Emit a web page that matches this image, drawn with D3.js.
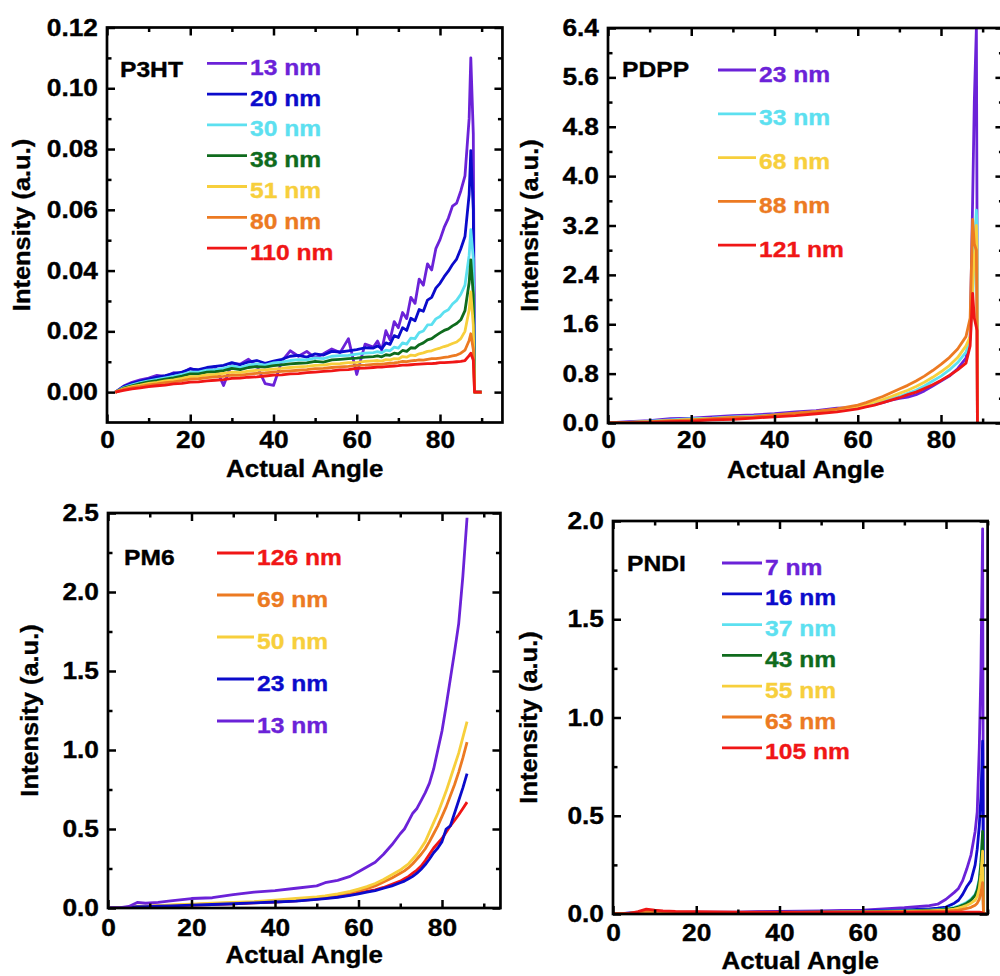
<!DOCTYPE html>
<html><head><meta charset="utf-8">
<script src="https://cdn.jsdelivr.net/npm/d3@7"></script>
<style>
body{margin:0;background:#fff}
svg{display:block}
text{font-family:"Liberation Sans",Arial,sans-serif;font-weight:bold}
</style>
</head><body>
<svg id="chart" width="1000" height="976"></svg>
<script>
// ---------------- DATA ----------------
const xTickValues = [0, 20, 40, 60, 80];
const xMinorValues = [10, 30, 50, 70, 90];
const xAxisTitle = "Actual Angle";
const yAxisTitle = "Intensity (a.u.)";

// P3HT
const p3htAngle = [2,4,6,8,10,12,14,16,18,20,22,24,26,28,30,32,34,36,38,40,42,44,46,48,50,52,54,56,58,60,62,
  64,65,66,67,68,69,70,71,72,73,74,75,76,77,78,79,80,81,82,83,84,85,86,87,87.4,88,88.3,90];
const p3ht13 = [0,0.002,0.0032,0.004,0.0046,0.0055,0.0052,0.0064,0.0062,0.0078,0.0068,0.0076,0.0084,0.0022,0.0094,0.0092,0.0108,0.0086,0.0028,0.0022,0.0102,0.0136,0.0118,0.0134,0.0112,0.0126,0.0142,0.013,0.0176,0.0058,0.0158,
  0.0148,0.0168,0.0138,0.0202,0.0172,0.0232,0.0212,0.0262,0.0242,0.0312,0.0292,0.0372,0.0352,0.0422,0.0402,0.0472,0.0502,0.0542,0.0572,0.0612,0.0622,0.0662,0.0712,
  0.09,0.110,0.085,0,0];
const p3ht20 = [0,0.0018,0.0029,0.0036,0.0043,0.0049,0.0054,0.0061,0.0066,0.0076,0.0074,0.0081,0.0085,0.0088,0.0097,0.009,0.0099,0.0104,0.0095,0.0102,0.0108,0.0118,0.0121,0.0115,0.0126,0.0122,0.0134,0.0132,0.0136,0.0140,0.0146,
  0.0145,0.0152,0.0143,0.0162,0.0157,0.0186,0.018,0.0212,0.0203,0.0243,0.0235,0.0272,0.0266,0.0303,0.0312,0.0342,0.0358,0.038,0.0398,0.042,0.0438,0.0472,0.0512,
  0.065,0.0795,0.06,0,0];
const p3ht30 = [0,0.0015,0.0024,0.0031,0.0037,0.0042,0.0047,0.0052,0.0058,0.0066,0.0066,0.0072,0.0074,0.0078,0.0086,0.0081,0.0089,0.0093,0.0089,0.0096,0.0099,0.0104,0.0107,0.0106,0.0113,0.011,0.0118,0.012,0.0121,0.0125,0.0128,
  0.013,0.0133,0.0129,0.0138,0.0136,0.0148,0.0145,0.0162,0.0158,0.0178,0.0176,0.0196,0.0201,0.0221,0.0222,0.0241,0.0249,0.0264,0.0271,0.029,0.0302,0.0322,0.0352,
  0.045,0.0535,0.044,0,0];
const p3ht38 = [0,0.0013,0.0021,0.0028,0.0034,0.0038,0.0043,0.0047,0.0053,0.006,0.006,0.0066,0.0067,0.0071,0.0078,0.0074,0.0081,0.0084,0.0082,0.0087,0.009,0.0093,0.0095,0.0096,0.0101,0.0099,0.0106,0.0108,0.011,0.0112,0.0115,
  0.0117,0.0119,0.0116,0.0123,0.0121,0.0128,0.0126,0.0137,0.0134,0.0146,0.0145,0.0156,0.0162,0.0172,0.0176,0.0186,0.0195,0.0203,0.0208,0.0218,0.0226,0.0238,0.0268,
  0.036,0.0435,0.032,0,0];
const p3ht51 = [0,0.0011,0.0018,0.0023,0.0029,0.0032,0.0037,0.004,0.0045,0.0051,0.0052,0.0057,0.0058,0.0062,0.0066,0.0064,0.0069,0.0072,0.0073,0.0076,0.0078,0.0081,0.0083,0.0085,0.0088,0.0089,0.0093,0.0094,0.0097,0.0098,0.0101,
  0.0103,0.0104,0.0102,0.0107,0.0106,0.011,0.0109,0.0117,0.0115,0.0122,0.012,0.0126,0.0129,0.0134,0.0136,0.0141,0.0145,0.015,0.0154,0.016,0.0165,0.0176,0.0200,
  0.027,0.033,0.022,0,0];
const p3ht80 = [0,0.0009,0.0015,0.0019,0.0024,0.0027,0.0031,0.0034,0.0038,0.0043,0.0044,0.0048,0.005,0.0052,0.0056,0.0055,0.0059,0.0062,0.0063,0.0066,0.0068,0.007,0.0072,0.0074,0.0077,0.0078,0.0081,0.0083,0.0085,0.0088,0.0089,
  0.0091,0.0092,0.0091,0.0094,0.0095,0.0096,0.0098,0.0101,0.01,0.0103,0.0104,0.0106,0.0105,0.0108,0.011,0.011,0.0112,0.0114,0.0116,0.0119,0.0122,0.0128,0.0138,
  0.017,0.0192,0.014,0,0];
const p3ht110 = [0,0.0006,0.0011,0.0014,0.0018,0.0021,0.0023,0.0027,0.0029,0.0033,0.0034,0.0037,0.0039,0.0041,0.0045,0.0046,0.0049,0.005,0.0053,0.0056,0.0057,0.006,0.0061,0.0064,0.0066,0.0068,0.007,0.0073,0.0074,0.0078,0.0079,
  0.0081,0.0082,0.0082,0.0084,0.0085,0.0086,0.0087,0.0089,0.0089,0.009,0.0091,0.0092,0.0093,0.0094,0.0094,0.0095,0.0097,0.0097,0.0098,0.0099,0.0100,0.0101,0.0104,
  0.012,0.0128,0.0105,0,0];
const p3htLabels = ["13 nm","20 nm","30 nm","38 nm","51 nm","80 nm","110 nm"];
const p3htYTicks = [0,0.02,0.04,0.06,0.08,0.10,0.12];
const p3htYMinor = [0.01,0.03,0.05,0.07,0.09,0.11];

// PDPP
const pdppAngle = [0,5,10,15,20,25,30,35,40,45,50,55,60,62,64,66,68,70,72,74,76,78,80,82,84,86,87,87.6,88,88.5,88.65,88.75];
const pdpp23 = [0,0.02,0.04,0.07,0.08,0.1,0.12,0.13,0.15,0.18,0.2,0.24,0.25,0.27,0.3,0.33,0.37,0.4,0.42,0.46,0.52,0.6,0.68,0.76,0.88,1.05,1.4,3.6,5.2,6.4,3.4,0];
const pdpp33 = [0,0.01,0.03,0.05,0.07,0.08,0.1,0.11,0.13,0.15,0.18,0.21,0.25,0.28,0.31,0.35,0.39,0.43,0.48,0.53,0.6,0.68,0.76,0.86,0.98,1.15,1.35,2.0,2.8,3.45,3.2,0];
const pdpp68 = [0,0.01,0.02,0.04,0.06,0.07,0.09,0.1,0.12,0.15,0.18,0.22,0.27,0.3,0.34,0.38,0.43,0.48,0.53,0.59,0.66,0.74,0.83,0.93,1.06,1.25,1.4,2.2,2.7,3.2,2.8,0];
const pdpp88 = [0,0.01,0.02,0.04,0.05,0.07,0.09,0.1,0.13,0.16,0.19,0.23,0.29,0.33,0.38,0.43,0.49,0.55,0.61,0.68,0.76,0.85,0.95,1.06,1.2,1.4,1.7,3.3,2.9,2.8,1.5,0];
const pdpp121 = [0,0,0.01,0.02,0.03,0.05,0.06,0.08,0.1,0.12,0.15,0.18,0.23,0.26,0.29,0.33,0.37,0.41,0.46,0.5,0.56,0.62,0.69,0.77,0.86,0.97,1.25,2.1,1.7,1.55,1.5,0];
const pdppLabels = ["23 nm","33 nm","68 nm","88 nm","121 nm"];
const pdppYTicks = [0,0.8,1.6,2.4,3.2,4.0,4.8,5.6,6.4];
const pdppYMinor = [0.4,1.2,2.0,2.8,3.6,4.4,5.2,6.0];

// PM6
const pm6Angle = [0.5,3,5,7,9,12,15,20,25,30,35,40,45,50,52,55,58,60,62,64,66,68,70,71,72,73,74,75,76,77,78,79,80,81,82,83,84,85,86];
const pm6_126 = [0,0.001,0.004,0.008,0.009,0.011,0.014,0.018,0.022,0.027,0.032,0.038,0.045,0.056,0.062,0.07,0.083,0.095,0.105,0.115,0.13,0.15,0.17,0.185,0.2,0.22,0.24,0.265,0.3,0.34,0.38,0.41,0.44,0.48,0.52,0.555,0.59,0.63,0.67];
const pm6_69 = [0,0.002,0.005,0.01,0.01,0.013,0.017,0.022,0.027,0.032,0.037,0.045,0.055,0.065,0.072,0.083,0.097,0.11,0.123,0.14,0.165,0.19,0.22,0.235,0.255,0.28,0.31,0.34,0.375,0.42,0.47,0.52,0.58,0.64,0.71,0.78,0.86,0.95,1.05];
const pm6_50 = [0,0.002,0.005,0.012,0.012,0.015,0.02,0.025,0.03,0.035,0.04,0.05,0.06,0.07,0.077,0.09,0.105,0.12,0.135,0.155,0.18,0.21,0.24,0.26,0.28,0.31,0.34,0.38,0.42,0.48,0.54,0.6,0.67,0.74,0.82,0.9,0.98,1.08,1.18];
const pm6_23 = [0,0.001,0.004,0.008,0.009,0.011,0.014,0.018,0.022,0.027,0.032,0.038,0.044,0.055,0.06,0.068,0.08,0.09,0.1,0.11,0.125,0.14,0.16,0.17,0.185,0.2,0.22,0.245,0.275,0.31,0.35,0.38,0.42,0.5,0.52,0.6,0.68,0.76,0.85];
const pm6_13 = [0,0.002,0.01,0.035,0.03,0.035,0.045,0.06,0.065,0.085,0.1,0.11,0.125,0.14,0.16,0.175,0.2,0.23,0.26,0.29,0.34,0.4,0.47,0.5,0.55,0.6,0.63,0.68,0.73,0.79,0.88,1.0,1.12,1.28,1.45,1.62,1.8,2.1,2.47];
const pm6Labels = ["126 nm","69 nm","50 nm","23 nm","13 nm"];
const pm6YTicks = [0,0.5,1.0,1.5,2.0,2.5];
const pm6YMinor = [0.25,0.75,1.25,1.75,2.25];

// PNDI
const pndiAngle = [0,2,4,6,8,10,12,15,20,25,30,35,40,45,50,55,60,65,70,73,76,78,80,82,83,84,85,86,87,87.5,88,88.4,88.8,89.0,89.5];
const pndi7 = [0,0.002,0.005,0.008,0.012,0.01,0.008,0.008,0.009,0.009,0.01,0.012,0.013,0.015,0.016,0.018,0.02,0.026,0.032,0.038,0.042,0.05,0.075,0.11,0.13,0.17,0.23,0.3,0.42,0.52,0.85,1.25,1.96,0,0];
const pndi16 = [0,0.002,0.004,0.006,0.01,0.008,0.007,0.007,0.007,0.008,0.008,0.009,0.01,0.011,0.012,0.013,0.015,0.018,0.02,0.023,0.026,0.03,0.035,0.055,0.07,0.1,0.14,0.17,0.25,0.33,0.45,0.6,0.88,0,0];
const pndi37 = [0,0.002,0.003,0.005,0.009,0.007,0.006,0.006,0.006,0.006,0.007,0.007,0.008,0.009,0.01,0.011,0.012,0.014,0.016,0.018,0.02,0.022,0.026,0.034,0.04,0.05,0.06,0.075,0.1,0.13,0.18,0.27,0.40,0,0];
const pndi43 = [0,0.002,0.003,0.005,0.009,0.007,0.006,0.006,0.006,0.006,0.006,0.007,0.008,0.008,0.009,0.01,0.011,0.013,0.015,0.017,0.019,0.021,0.024,0.03,0.036,0.045,0.055,0.07,0.095,0.12,0.17,0.26,0.42,0,0];
const pndi55 = [0,0.002,0.003,0.005,0.009,0.007,0.006,0.006,0.005,0.005,0.006,0.006,0.007,0.007,0.008,0.009,0.01,0.011,0.013,0.014,0.016,0.018,0.02,0.025,0.03,0.036,0.044,0.055,0.07,0.09,0.13,0.2,0.32,0,0];
const pndi63 = [0,0.002,0.004,0.008,0.015,0.012,0.01,0.009,0.008,0.008,0.008,0.008,0.008,0.008,0.009,0.009,0.01,0.01,0.011,0.012,0.013,0.014,0.015,0.018,0.02,0.024,0.028,0.034,0.045,0.055,0.075,0.11,0.16,0,0];
const pndi105 = [0,0.001,0.003,0.012,0.025,0.02,0.016,0.013,0.012,0.011,0.01,0.01,0.01,0.01,0.009,0.009,0.009,0.009,0.009,0.009,0.009,0.009,0.009,0.009,0.009,0.009,0.009,0.009,0.009,0.009,0.009,0.008,0.005,0.002,0];
const pndiLabels = ["7 nm","16 nm","37 nm","43 nm","55 nm","63 nm","105 nm"];
const pndiYTicks = [0,0.5,1.0,1.5,2.0];
const pndiYMinor = [0.25,0.75,1.25,1.75];

// colours
const cPurple = "#6b22d8", cBlue = "#0b0bcb", cCyan = "#5ce0f0", cGreen = "#0f6b1d",
      cYellow = "#f7cf3c", cOrange = "#ec7a22", cRed = "#f01616";

// ---------------- LAYOUT ----------------
const panels = [
  {title:"P3HT", angles:p3htAngle, series:[p3ht13,p3ht20,p3ht30,p3ht38,p3ht51,p3ht80,p3ht110], labels:p3htLabels,
   colors:[cPurple,cBlue,cCyan,cGreen,cYellow,cOrange,cRed], yTicks:p3htYTicks, yMinor:p3htYMinor, fmt:".2f",
   left:107, k:4.1625, xMax:95, top:27.5, bottom:422.5, yDomain:[-0.01,0.12],
   titleX:120, titleY:77, legX1:207, legX2:247, legY0:63.3, legStep:30.8, ylabOff:77, xPad:8.5},
  {title:"PDPP", angles:pdppAngle, series:[pdpp23,pdpp33,pdpp68,pdpp88,pdpp121], labels:pdppLabels,
   colors:[cPurple,cCyan,cYellow,cOrange,cRed], yTicks:pdppYTicks, yMinor:pdppYMinor, fmt:".1f",
   left:608, k:4.1625, xMax:95, top:28, bottom:423, yDomain:[0,6.4],
   titleX:622, titleY:77, legX1:718, legX2:756, legY0:70, legStep:43.8, ylabOff:70, xPad:8.5},
  {title:"PM6", angles:pm6Angle, series:[pm6_126,pm6_69,pm6_50,pm6_23,pm6_13], labels:pm6Labels,
   colors:[cRed,cOrange,cYellow,cBlue,cPurple], yTicks:pm6YTicks, yMinor:pm6YMinor, fmt:".1f",
   left:108, k:4.175, xMax:94, top:513, bottom:908, yDomain:[0,2.5],
   titleX:124, titleY:565, legX1:217, legX2:254, legY0:553, legStep:42, ylabOff:70, xPad:11},
  {title:"PNDI", angles:pndiAngle, series:[pndi7,pndi16,pndi37,pndi43,pndi55,pndi63,pndi105], labels:pndiLabels,
   colors:[cPurple,cBlue,cCyan,cGreen,cYellow,cOrange,cRed], yTicks:pndiYTicks, yMinor:pndiYMinor, fmt:".1f",
   left:613, k:4.1625, xMax:90, top:521, bottom:914, yDomain:[0,2.0],
   titleX:627, titleY:571, legX1:722, legX2:762, legY0:563, legStep:30.8, ylabOff:76, xPad:10.5}
];

const svg = d3.select("#chart");
const SX = 1.12;

function label(g, x, y, s, opt) {
  opt = opt || {};
  const col = opt.fill || "#000";
  return g.append("text")
    .attr("transform", `translate(${x},${y})${opt.rot ? " rotate(-90)" : ""} scale(${opt.sx || SX},1)`)
    .attr("text-anchor", opt.anchor || "start")
    .attr("font-size", opt.size || 22)
    .attr("fill", col).attr("stroke", col).attr("stroke-width", 0.35)
    .text(s);
}

panels.forEach((p, pi) => {
  const right = p.left + p.k * p.xMax;
  const x = d3.scaleLinear().domain([0, p.xMax]).range([p.left, right]);
  const y = d3.scaleLinear().domain(p.yDomain).range([p.bottom, p.top]);
  const g = svg.append("g");

  const clipId = "clip" + pi;
  svg.append("clipPath").attr("id", clipId).append("rect")
    .attr("x", p.left).attr("y", p.top - 1).attr("width", right - p.left).attr("height", p.bottom - p.top + 1);

  const line = d3.line().x((d, i) => x(p.angles[i])).y(d => y(d));
  const lines = g.append("g").attr("clip-path", `url(#${clipId})`);
  p.series.forEach((s, si) => {
    lines.append("path").attr("d", line(s)).attr("fill", "none")
      .attr("stroke", p.colors[si]).attr("stroke-width", 2.8)
      .attr("stroke-linejoin", "round").attr("stroke-linecap", "butt");
  });

  const styleAxis = sel => {
    sel.select(".domain").remove();
    sel.selectAll(".tick line").attr("stroke", "#000").attr("stroke-width", 2.5);
  };
  const styleText = a => a.selectAll("text").attr("font-size", 23.5).attr("fill", "#000")
      .attr("stroke", "#000").attr("stroke-width", 0.35)
      .attr("font-family", "Liberation Sans, Arial, sans-serif").attr("font-weight", "bold")
      .attr("transform", `scale(${SX},1)`);

  g.append("g").attr("transform", `translate(0,${p.bottom})`)
    .call(d3.axisBottom(x).tickValues(xTickValues).tickSize(-8).tickPadding(p.xPad).tickFormat(d3.format("d")))
    .call(styleAxis).call(styleText);
  g.append("g").attr("transform", `translate(0,${p.bottom})`)
    .call(d3.axisBottom(x).tickValues(xMinorValues.filter(v => v <= p.xMax)).tickSize(-4.5).tickFormat(""))
    .call(styleAxis);
  g.append("g").attr("transform", `translate(0,${p.top})`)
    .call(d3.axisTop(x).tickValues(xTickValues).tickSize(-8).tickFormat(""))
    .call(styleAxis);
  g.append("g").attr("transform", `translate(0,${p.top})`)
    .call(d3.axisTop(x).tickValues(xMinorValues.filter(v => v <= p.xMax)).tickSize(-4.5).tickFormat(""))
    .call(styleAxis);

  g.append("g").attr("transform", `translate(${p.left},0)`)
    .call(d3.axisLeft(y).tickValues(p.yTicks).tickSize(-8).tickPadding(9).tickFormat(d3.format(p.fmt)))
    .call(styleAxis).call(styleText)
    .call(a => a.selectAll("text").attr("x", -9 / SX));
  g.append("g").attr("transform", `translate(${p.left},0)`)
    .call(d3.axisLeft(y).tickValues(p.yMinor).tickSize(-4.5).tickFormat(""))
    .call(styleAxis);
  g.append("g").attr("transform", `translate(${right},0)`)
    .call(d3.axisRight(y).tickValues(p.yTicks).tickSize(-8).tickFormat(""))
    .call(styleAxis);
  g.append("g").attr("transform", `translate(${right},0)`)
    .call(d3.axisRight(y).tickValues(p.yMinor).tickSize(-4.5).tickFormat(""))
    .call(styleAxis);

  g.append("rect").attr("x", p.left).attr("y", p.top).attr("width", right - p.left).attr("height", p.bottom - p.top)
    .attr("fill", "none").attr("stroke", "#000").attr("stroke-width", 2.7);

  label(g, (p.left + right) / 2, p.bottom + 54.5, xAxisTitle, {anchor: "middle", size: 24, sx: 1.08});
  label(g, p.left - p.ylabOff, (p.top + p.bottom) / 2, yAxisTitle, {anchor: "middle", size: 24, sx: 1.06, rot: true});

  label(g, p.titleX, p.titleY, p.title, {size: 22});

  p.labels.forEach((t, i) => {
    const ly = p.legY0 + i * p.legStep;
    g.append("line").attr("x1", p.legX1).attr("x2", p.legX2).attr("y1", ly).attr("y2", ly)
      .attr("stroke", p.colors[i]).attr("stroke-width", 2.8);
    label(g, p.legX2 + 3, ly + 11.5, t, {size: 22, fill: p.colors[i]});
  });
});
</script>
</body></html>
